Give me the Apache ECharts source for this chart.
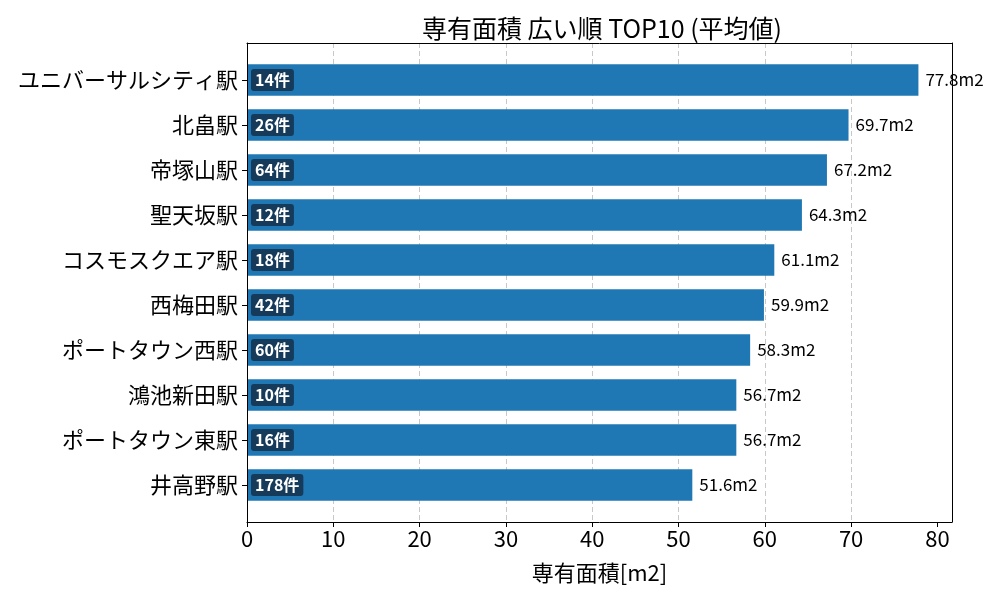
<!DOCTYPE html>
<html>
<head>
<meta charset="utf-8">
<script src="https://cdn.jsdelivr.net/npm/echarts@6/dist/echarts.min.js"></script>
<style>html,body{margin:0;padding:0;background:#fff}#c{width:1000px;height:600px}</style>
</head>
<body>
<div id="c"></div>
<script>
const categories = ['ユニバーサルシティ駅','北畠駅','帝塚山駅','聖天坂駅','コスモスクエア駅','西梅田駅','ポートタウン西駅','鴻池新田駅','ポートタウン東駅','井高野駅'];
const areaValues = [77.8, 69.7, 67.2, 64.3, 61.1, 59.9, 58.3, 56.7, 56.7, 51.6];
const counts = [14, 26, 64, 12, 18, 42, 60, 10, 16, 178];
const xTicks = [0, 10, 20, 30, 40, 50, 60, 70, 80];

const FONT = '"Noto Sans CJK JP", "Noto Sans", sans-serif';
const xMax = Math.max(...areaValues) * 1.05;
const frameLine = {show: true, onZero: false, lineStyle: {color: '#000', width: 1}};

const chart = echarts.init(document.getElementById('c'), null, {renderer: 'canvas'});
chart.setOption({
  animation: false,
  backgroundColor: '#fff',
  textStyle: {fontFamily: FONT},
  title: {
    text: '専有面積 広い順 TOP10 (平均値)',
    left: 597, textAlign: 'center', top: 11,
    textStyle: {fontFamily: FONT, fontSize: 25, fontWeight: 'normal', color: '#000'}
  },
  grid: [
    {left: 247, right: 48, top: 43, bottom: 78},
    {left: 247, right: 48, top: 57.5, bottom: 92.5}
  ],
  xAxis: [
    {
      gridIndex: 0, type: 'value', min: 0, max: xMax, interval: 10, position: 'bottom',
      axisLine: frameLine,
      axisTick: {show: true, length: 5, lineStyle: {color: '#000'}, customValues: xTicks},
      axisLabel: {
        fontFamily: FONT, fontSize: 22, color: '#000', margin: 6,
        customValues: xTicks,
        formatter: v => String(v)
      },
      splitLine: {show: true, showMaxLine: false, showMinLine: false, lineStyle: {color: '#c8c8c8', type: [5, 3], width: 1}},
      name: '専有面積[m2]', nameLocation: 'middle', nameGap: 40,
      nameTextStyle: {fontFamily: FONT, fontSize: 22, color: '#000'},
      z: 1
    },
    {gridIndex: 1, type: 'value', min: 0, max: xMax, show: false},
    {
      gridIndex: 0, type: 'value', min: 0, max: xMax, position: 'top',
      axisLine: frameLine, axisTick: {show: false}, axisLabel: {show: false}, splitLine: {show: false}, z: 5
    }
  ],
  yAxis: [
    {gridIndex: 0, type: 'value', min: 0, max: 1, position: 'left',
     axisLine: frameLine, axisTick: {show: false}, axisLabel: {show: false}, splitLine: {show: false}, z: 5},
    {
      gridIndex: 1, type: 'category', data: categories, inverse: true,
      axisLine: {show: false},
      axisTick: {show: true, alignWithLabel: true, length: 5, lineStyle: {color: '#000'}},
      axisLabel: {fontFamily: FONT, fontSize: 22, color: '#000', margin: 9},
      splitLine: {show: false}
    },
    {gridIndex: 0, type: 'value', min: 0, max: 1, position: 'right',
     axisLine: frameLine, axisTick: {show: false}, axisLabel: {show: false}, splitLine: {show: false}, z: 5}
  ],
  series: [
    {
      type: 'bar', xAxisIndex: 1, yAxisIndex: 1, data: areaValues, barWidth: '70%',
      itemStyle: {color: '#1f77b4'},
      label: {
        show: true, position: 'right', distance: 7,
        fontFamily: FONT, fontSize: 17, color: '#000',
        formatter: p => p.value.toFixed(1) + 'm2'
      },
      z: 2
    },
    {
      type: 'bar', xAxisIndex: 1, yAxisIndex: 1, data: areaValues, barWidth: '70%', barGap: '-100%',
      itemStyle: {color: 'transparent'},
      label: {
        show: true, position: 'insideLeft', distance: 4,
        fontFamily: FONT, fontSize: 16, fontWeight: 'bold', color: '#fff',
        backgroundColor: '#153a5a', borderRadius: 3, padding: [3, 4, 3, 4],
        formatter: p => counts[p.dataIndex] + '件'
      },
      z: 3
    }
  ]
});
</script>
</body>
</html>
